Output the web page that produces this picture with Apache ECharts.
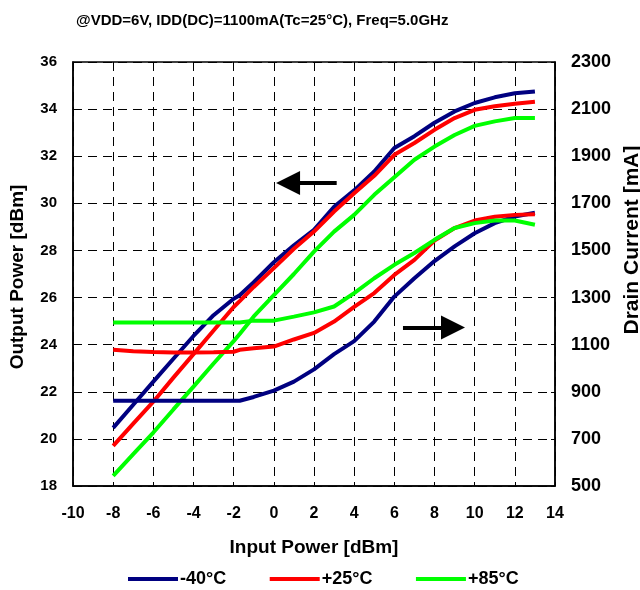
<!DOCTYPE html>
<html>
<head>
<meta charset="utf-8">
<script src="https://cdn.jsdelivr.net/npm/echarts@6/dist/echarts.min.js"></script>
<style>html,body{margin:0;padding:0;background:#fff}#c{width:640px;height:590px}</style>
</head>
<body>
<div id="c"></div>
<script>
const titleText = '@VDD=6V, IDD(DC)=1100mA(Tc=25°C), Freq=5.0GHz';
const seriesNames = ['-40°C', '+25°C', '+85°C'];
const pin = [-8, -7, -6, -5, -4, -3, -2, -1.7, -1, 0, 1, 2, 3, 4, 5, 6, 7, 8, 9, 10, 11, 12, 13];
const poutM40 = [20.47, 21.45, 22.43, 23.4, 24.37, 25.25, 25.95, 26.1, 26.65, 27.5, 28.22, 28.88, 29.85, 30.55, 31.35, 32.35, 32.85, 33.42, 33.9, 34.26, 34.5, 34.67, 34.75];
const pout25 = [19.7, 20.65, 21.58, 22.6, 23.6, 24.6, 25.6, 25.85, 26.45, 27.25, 28.07, 28.8, 29.65, 30.43, 31.17, 32.06, 32.56, 33.12, 33.62, 33.97, 34.12, 34.23, 34.31];
const pout85 = [18.43, 19.35, 20.27, 21.25, 22.22, 23.2, 24.15, 24.45, 25.2, 26.1, 27.0, 27.95, 28.8, 29.51, 30.36, 31.11, 31.85, 32.41, 32.9, 33.29, 33.48, 33.62, 33.62];
const idM40 = [862, 862, 862, 862, 862, 862, 862, 862, 878, 905, 943, 995, 1060, 1115, 1198, 1304, 1382, 1455, 1517, 1573, 1616, 1644, 1660];
const id25 = [1078, 1072, 1069, 1067, 1067, 1068, 1070, 1078, 1085, 1092, 1122, 1150, 1198, 1260, 1319, 1396, 1460, 1542, 1595, 1627, 1643, 1651, 1654];
const id85 = [1194, 1194, 1194, 1194, 1194, 1194, 1194, 1194, 1202, 1202, 1219, 1237, 1262, 1319, 1382, 1439, 1489, 1545, 1595, 1616, 1627, 1627, 1609];
const colors = ['#000080', '#ff0000', '#00ff00'];
// arrow annotations: tail -> head centre, in (input power, output power) units
const arrowLeft = [[3.13, 30.86], [0.71, 30.86]];
const arrowRight = [[6.43, 24.73], [8.92, 24.73]];

const pair = (xs, ys) => xs.map((x, i) => [x, ys[i]]);
const FONT = 'Liberation Sans, Arial, sans-serif';

function mkSeries(name, data, color, yIdx, extra) {
  return Object.assign({
    name: name, type: 'line', data: data, yAxisIndex: yIdx,
    showSymbol: false, symbol: 'none', smooth: false,
    lineStyle: { color: color, width: 4 }, itemStyle: { color: color },
    animation: false
  }, extra || {});
}

const arrowMark = {
  silent: true, animation: false,
  symbol: ['none', 'triangle'], symbolSize: [24, 24],
  lineStyle: { color: '#000', width: 4, type: 'solid' },
  itemStyle: { color: '#000' },
  label: { show: false },
  data: [
    [{ coord: arrowLeft[0] }, { coord: arrowLeft[1] }],
    [{ coord: arrowRight[0] }, { coord: arrowRight[1] }]
  ]
};

const chart = echarts.init(document.getElementById('c'), null, { renderer: 'canvas' });
chart.setOption({
  animation: false,
  backgroundColor: '#fff',
  title: {
    text: titleText, left: 76, top: 13, padding: 0,
    textStyle: { fontFamily: FONT, fontSize: 15, fontWeight: 'bold', color: '#000' }
  },
  grid: {
    left: 73, right: 85, top: 62, bottom: 104, show: true, borderColor: '#000', borderWidth: 1.5,
    containLabel: false, outerBoundsMode: 'none'
  },
  legend: {
    data: seriesNames, left: 128, top: 570, padding: 0, itemWidth: 50, itemHeight: 4, itemGap: 43.5,
    icon: 'rect',
    textStyle: { fontFamily: FONT, fontSize: 18, fontWeight: 'bold', color: '#000', padding: [0, 0, 0, -3] }
  },
  xAxis: {
    type: 'value', min: -10, max: 14, interval: 2,
    name: 'Input Power [dBm]', nameLocation: 'middle', nameGap: 52,
    nameTextStyle: { fontFamily: FONT, fontSize: 19, fontWeight: 'bold', color: '#000' },
    axisLine: { show: true, onZero: false, lineStyle: { color: '#000', width: 1.5 } },
    axisTick: { show: true, inside: true, length: 4, lineStyle: { color: '#000' } },
    axisLabel: { fontFamily: FONT, fontSize: 16, fontWeight: 'bold', color: '#000', margin: 20 },
    splitLine: { show: true, lineStyle: { color: '#000', width: 1, type: [9, 6] } }
  },
  yAxis: [
    {
      type: 'value', min: 18, max: 36, interval: 2, position: 'left',
      name: 'Output Power [dBm]', nameLocation: 'middle', nameGap: 46, nameRotate: 90,
      nameTextStyle: { fontFamily: FONT, fontSize: 19, fontWeight: 'bold', color: '#000', padding: [0, 6, 0, 0] },
      axisLine: { show: true, onZero: false, lineStyle: { color: '#000', width: 1.5 } },
      axisTick: { show: true, inside: true, length: 4, lineStyle: { color: '#000' } },
      axisLabel: { fontFamily: FONT, fontSize: 15, fontWeight: 'bold', color: '#000', margin: 16 },
      splitLine: { show: true, lineStyle: { color: '#000', width: 1, type: [9, 6] } }
    },
    {
      type: 'value', min: 500, max: 2300, interval: 200, position: 'right',
      name: 'Drain Current [mA]', nameLocation: 'middle', nameGap: 64, nameRotate: 90,
      nameTextStyle: { fontFamily: FONT, fontSize: 21, fontWeight: 'bold', color: '#000', padding: [0, 0, 0, 68] },
      axisLine: { show: true, onZero: false, lineStyle: { color: '#000', width: 1.5 } },
      axisTick: { show: true, inside: true, length: 4, lineStyle: { color: '#000' } },
      axisLabel: { fontFamily: FONT, fontSize: 18, fontWeight: 'bold', color: '#000', margin: 16, formatter: v => String(v) },
      splitLine: { show: false }
    }
  ],
  series: [
    mkSeries(seriesNames[0], pair(pin, poutM40), colors[0], 0, { markLine: arrowMark }),
    mkSeries(seriesNames[1], pair(pin, pout25), colors[1], 0),
    mkSeries(seriesNames[2], pair(pin, pout85), colors[2], 0),
    mkSeries(seriesNames[0], pair(pin, idM40), colors[0], 1),
    mkSeries(seriesNames[1], pair(pin, id25), colors[1], 1),
    mkSeries(seriesNames[2], pair(pin, id85), colors[2], 1)
  ]
});
</script>
</body>
</html>
